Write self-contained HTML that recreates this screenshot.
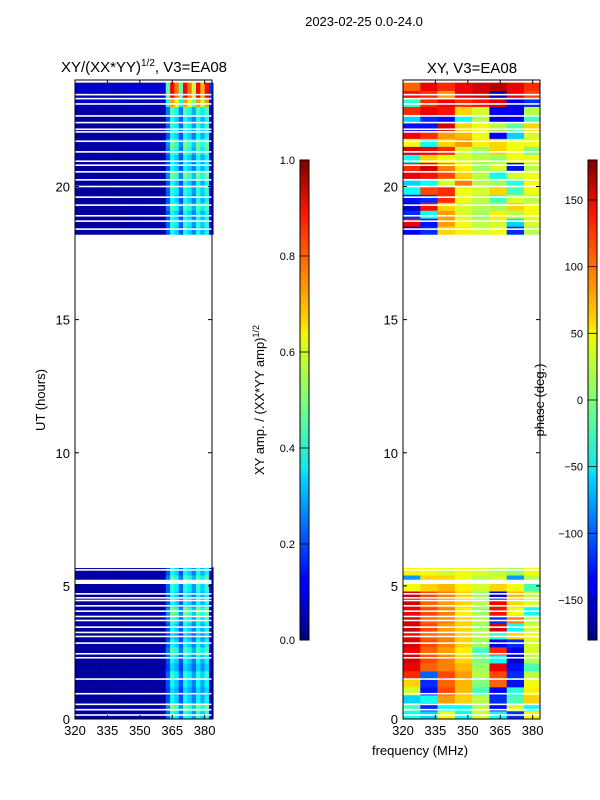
<!DOCTYPE html>
<html><head><meta charset="utf-8"><style>
body{margin:0;background:#fff;}
svg{display:block;font-family:"Liberation Sans","DejaVu Sans",sans-serif;}
</style></head><body>
<svg id="fig" width="600" height="800" viewBox="0 0 600 800">
<defs>
<linearGradient id="jet" x1="0" y1="1" x2="0" y2="0">
<stop offset="0" stop-color="#00007f"/><stop offset="0.11" stop-color="#0000ff"/>
<stop offset="0.125" stop-color="#0000ff"/><stop offset="0.34" stop-color="#00d4ff"/>
<stop offset="0.35" stop-color="#0de5f2"/><stop offset="0.5" stop-color="#7dff7a"/>
<stop offset="0.64" stop-color="#f4f802"/><stop offset="0.66" stop-color="#ffd800"/>
<stop offset="0.89" stop-color="#ff1600"/><stop offset="1" stop-color="#7f0000"/>
</linearGradient>
</defs>
<text x="364" y="26" font-size="13" text-anchor="middle">2023-02-25 0.0-24.0</text>
<text x="144" y="72" font-size="15" text-anchor="middle">XY/(XX*YY)<tspan font-size="10" dy="-6">1/2</tspan><tspan dy="6">, V3=EA08</tspan></text>
<text x="472" y="73" font-size="15" text-anchor="middle">XY, V3=EA08</text>
<text transform="translate(45,400) rotate(-90)" font-size="13" text-anchor="middle">UT (hours)</text>
<text transform="translate(264,400) rotate(-90)" font-size="13" text-anchor="middle">XY amp. / (XX*YY amp)<tspan font-size="9" dy="-5">1/2</tspan></text>
<text transform="translate(544,400) rotate(-90)" font-size="13" text-anchor="middle">phase (deg.)</text>
<text x="420" y="755" font-size="13" text-anchor="middle">frequency (MHz)</text>
<g id="left"></g>
<g id="right"></g>
<g id="cb1"></g>
<g id="cb2"></g>
</svg>
<script>
const freqTicks=[320,335,350,365,380];
const timeTicks=[0,5,10,15,20];
const ampTicks=[0.0,0.2,0.4,0.6,0.8,1.0];
const phaseTicks=[-150,-100,-50,0,50,100,150];
const rowHours=0.3;
const bottomStart=0.0, topStart=18.2;
// amplitude column profile, 2 MHz channels from 320 to 382
const ampCols=[0.03,0.03,0.03,0.03,0.03,0.03,0.03,0.03,0.03,0.03,0.03,0.035,0.035,0.035,0.035,0.035,0.035,0.035,0.035,0.035,0.04,0.2,0.38,0.33,0.2,0.38,0.33,0.25,0.38,0.3,0.38,0.08];
const ampGainBottom=[1.1,1.3,1.0,0.9,1.0,1.1,0.9,1.0,1.2,1.0,0.9,1.0,1.1,1.3,1.0,1.0,1.1,1.2,1.0];
const ampGainTop=[1.0,1.1,1.0,1.2,1.0,1.1,1.0,1.3,1.0,1.0,1.2,1.3,1.0,1.1,1.0,1.2,1.9,2.3,2.3];
// phase grid, 8 MHz bands 320..384
const phaseBottom=[
[-40,-60,40,-40,30,-40,-120,40],[-20,-120,-40,-40,20,-130,30,-40],[-60,-40,80,60,20,-120,-20,60],
[30,-130,110,70,-20,-140,-30,50],[60,-120,100,70,0,100,-130,40],[120,-100,110,80,20,110,-120,20],
[140,100,90,70,10,140,-130,-20],[150,110,90,60,0,-40,-150,20],[140,100,80,50,-20,120,-140,30],
[150,110,90,60,10,-140,-120,30],[140,100,90,60,20,-30,60,40],[150,110,80,60,10,150,-40,30],
[150,100,90,60,20,-120,90,20],[140,110,90,50,10,130,40,-40],[150,100,80,60,20,140,60,30],
[150,110,90,60,10,-150,70,20],[40,60,70,50,30,60,40,-20],[-80,60,60,40,20,30,-80,20],[50,40,30,40,30,20,10,40]];
const phaseTop=[
[-140,-120,60,50,30,40,-120,20],[140,-130,80,40,20,30,-60,30],[-120,-40,80,30,10,50,20,40],
[-150,130,60,30,20,10,60,40],[-130,-120,120,40,20,-20,30,20],[-40,110,120,40,30,60,-20,40],
[-60,-40,30,90,20,10,-30,40],[140,130,110,60,20,-40,30,40],[120,150,90,50,10,30,-130,20],
[-40,60,40,30,20,10,40,40],[150,140,120,30,10,60,40,0],[40,-40,60,80,50,60,40,40],
[140,120,80,70,40,-140,-60,30],[-130,-130,150,60,40,20,-10,60],[-60,-120,-130,-40,20,-150,-140,-20],
[120,140,130,60,30,-140,-140,20],[-30,120,140,120,130,150,-140,-120],[130,120,80,140,150,-160,140,110],
[100,140,120,140,150,160,140,120]];
const gapHours=[0.15,0.35,0.55,0.95,1.5,2.3,2.45,2.85,3.1,3.25,3.45,3.7,3.85,4.05,4.25,4.45,4.55,4.7,5.1,5.15,5.2,5.6,5.7,
18.4,18.7,18.9,19.3,19.6,20.0,20.25,20.55,20.8,20.95,21.3,21.7,22.05,22.15,22.4,22.65,23.1,23.3,23.45];

const NS="http://www.w3.org/2000/svg";
const Y0=719, Y1=80, FMIN=320, FMAX=383.4, TMAX=24;
function yS(h){return Y0-(h/TMAX)*(Y0-Y1);}
function jet(v){v=Math.max(0,Math.min(1,v));
 const r=Math.max(0,Math.min(1,1.5-Math.abs(4*v-3))),g=Math.max(0,Math.min(1,1.5-Math.abs(4*v-2))),b=Math.max(0,Math.min(1,1.5-Math.abs(4*v-1)));
 return `rgb(${Math.round(r*255)},${Math.round(g*255)},${Math.round(b*255)})`;}
function mk(tag,attrs,parent){const e=document.createElementNS(NS,tag);for(const k in attrs)e.setAttribute(k,attrs[k]);parent.appendChild(e);return e;}

function panel(gid,x0,x1,drawCells){
 const g=document.getElementById(gid);
 const xS=f=>x0+(f-FMIN)/(FMAX-FMIN)*(x1-x0);
 drawCells(g,xS);
 gapHours.forEach(h=>{const r=mk('rect',{x:x0,y:yS(h)-0.8,width:x1-x0,height:1.6,fill:'#fff'},g);
  
  });
 const fr=mk('rect',{x:x0,y:Y1,width:x1-x0,height:Y0-Y1,fill:'none',stroke:'#000','stroke-width':1},g);
 
 
 freqTicks.forEach(f=>{const x=xS(f);
  mk('line',{x1:x,x2:x,y1:Y0,y2:Y0-4,stroke:'#000'},g);mk('line',{x1:x,x2:x,y1:Y1,y2:Y1+4,stroke:'#000'},g);
  const t=mk('text',{x:x,y:Y0+16,'font-size':13,'text-anchor':'middle'},g);t.textContent=f;
  
  });
 timeTicks.forEach(h=>{const y=yS(h);
  mk('line',{x1:x0,x2:x0+4,y1:y,y2:y,stroke:'#000'},g);mk('line',{x1:x1,x2:x1-4,y1:y,y2:y,stroke:'#000'},g);
  const t=mk('text',{x:x0-5,y:y+5,'font-size':13,'text-anchor':'end'},g);t.textContent=h;
  
  });
}
panel('left',75,212,(g,xS)=>{
 [[bottomStart,ampGainBottom],[topStart,ampGainTop]].forEach(([start,gains])=>{
  gains.forEach((gn,r)=>{const h0=start+r*rowHours,h1=h0+rowHours;
   ampCols.forEach((a,c)=>{const f0=FMIN+2*c;
    const e=mk('rect',{x:xS(f0),y:yS(h1),width:xS(f0+2)-xS(f0)+0.3,height:yS(h0)-yS(h1)+0.3,fill:jet(a*gn)},g);
    
    });});});
});
panel('right',403,540,(g,xS)=>{
 [[bottomStart,phaseBottom],[topStart,phaseTop]].forEach(([start,grid])=>{
  grid.forEach((row,r)=>{const h0=start+r*rowHours,h1=h0+rowHours;
   row.forEach((p,c)=>{const f0=FMIN+8*c,f1=Math.min(FMAX,f0+8);
    const e=mk('rect',{x:xS(f0),y:yS(h1),width:xS(f1)-xS(f0)+0.3,height:yS(h0)-yS(h1)+0.3,fill:jet((p+180)/360)},g);
    
    });});});
});
function colorbar(gid,x,ticks,vmin,vmax,fmt){
 const g=document.getElementById(gid),top=160,bot=640;
 mk('rect',{x:x,y:top,width:9,height:bot-top,fill:'url(#jet)',stroke:'#000','stroke-width':1},g);
 ticks.forEach(v=>{const y=bot-(v-vmin)/(vmax-vmin)*(bot-top);
  mk('line',{x1:x,x2:x+9,y1:y,y2:y,stroke:'#000','stroke-width':0.8},g);
  const t=mk('text',{x:x-5,y:y+4,'font-size':11,'text-anchor':'end'},g);t.textContent=fmt(v);
  
  });
}
colorbar('cb1',300,ampTicks,0,1,v=>v.toFixed(1));
colorbar('cb2',588,phaseTicks,-180,180,v=>v<0?'\u2212'+(-v):''+v);
</script>
</body></html>
